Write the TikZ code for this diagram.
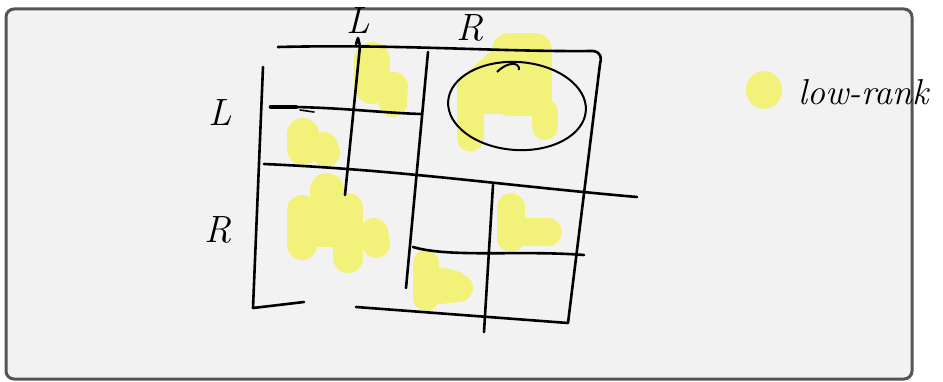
\documentclass[tikz,border=0pt]{standalone}
\usetikzlibrary{shapes.geometric}
\begin{document}
\begin{tikzpicture}[x=1pt,y=-1pt,
  ink/.style={draw=black,line width=2.6pt,line cap=round,line join=round},
  hl/.style={draw=hlyellow,line width=28pt,line cap=round,line join=round},
  lab/.style={inner sep=0pt,font=\fontsize{38}{38}\selectfont\itshape}]
\definecolor{hlyellow}{RGB}{242,242,122}
\definecolor{panel}{RGB}{242,242,242}
\definecolor{rim}{RGB}{85,85,85}
\useasboundingbox (0,0) rectangle (943,382);
\fill[white] (0,0) rectangle (943,382);
\draw[rim,line width=3pt,fill=panel,rounded corners=8pt] (6,9) rectangle (912,379);
% highlights
\draw[hl,line width=36pt] (372,60) -- (372,86);
\draw[hl] (394,86) -- (393,103);
\draw[hl,line width=32pt] (303,134) -- (303,149);
\draw[hl] (324,146) -- (326,153);
\draw[hl,line width=30pt] (302,210) -- (302,245);
\draw[hl,line width=34pt] (327,190) -- (327,230);
\draw[hl,line width=30pt] (348,208) -- (348,258);
\draw[hl,line width=28pt] (374,232) -- (376,244);
\draw[hl,line width=30pt] (305,232) -- (350,232);
\draw[hl,line width=27pt] (470,88) -- (470,138);
\draw[hl,line width=34pt] (509,50) -- (535,50) -- (535,99) -- (509,99) -- cycle;
\fill[hlyellow] (509,50) rectangle (535,99);
\draw[hl,line width=26pt] (545,112) -- (545,127);
\draw[hl,line width=28pt] (478,100) -- (500,100);
\draw[hl,line width=26pt] (478,80) -- (498,62);
\draw[hl] (511,207) -- (511,238);
\draw[hl] (525,232) -- (548,232);
\draw[hl,line width=26pt] (426,263) -- (426,298);
\draw[hl] (440,290) -- (459,288);
\draw[hl,line width=24pt] (444,280) -- (455,283);
\fill[hlyellow] (764,90) ellipse (18pt and 19pt);
% grid strokes
\coordinate (tl) at (278,47);
\coordinate (tr) at (594,52);
\coordinate (br) at (568,323);
\coordinate (bl) at (356,307);
\draw[ink] (tl) .. controls (400,44) and (500,52) .. (593,51) .. controls (601,52) and (602,58) .. (600,64) -- (br) -- (bl);
\draw[ink] (263,67) -- (253,308) -- (304,302);
\draw[ink] (356,44) -- (358,38) -- (360,46) -- (345,195);
\draw[ink] (428,52) -- (406,288);
\draw[ink] (264,164) .. controls (400,170) and (500,185) .. (637,197);
\draw[ink] (270,107) .. controls (330,106) and (380,113) .. (422,114);
\draw[black,line width=4.5pt,line cap=round] (271,107) -- (296,107);
\draw[ink,line width=1.6pt] (300,110) -- (314,112);
\draw[ink] (493,185) -- (484,332);
\draw[ink] (413,247) .. controls (450,258) and (520,250) .. (584,255);
\node[draw=black,line width=2pt,ellipse,minimum width=138pt,minimum height=88pt,rotate=-4] (ell) at (517,106) {};
\draw[black,line width=2pt] (497,72) .. controls (508,61) and (520,62) .. (519,70);
% labels
\node[lab] (topL) at (358,21) {L};
\node[lab] (topR) at (470,28) {R};
\node[lab] (leftL) at (220,113) {L};
\node[lab] (leftR) at (218,230) {R};
\node[inner sep=0pt,anchor=west,font=\fontsize{36}{36}\selectfont\itshape] (leg) at (798,92) {low-rank};
\end{tikzpicture}
\end{document}
